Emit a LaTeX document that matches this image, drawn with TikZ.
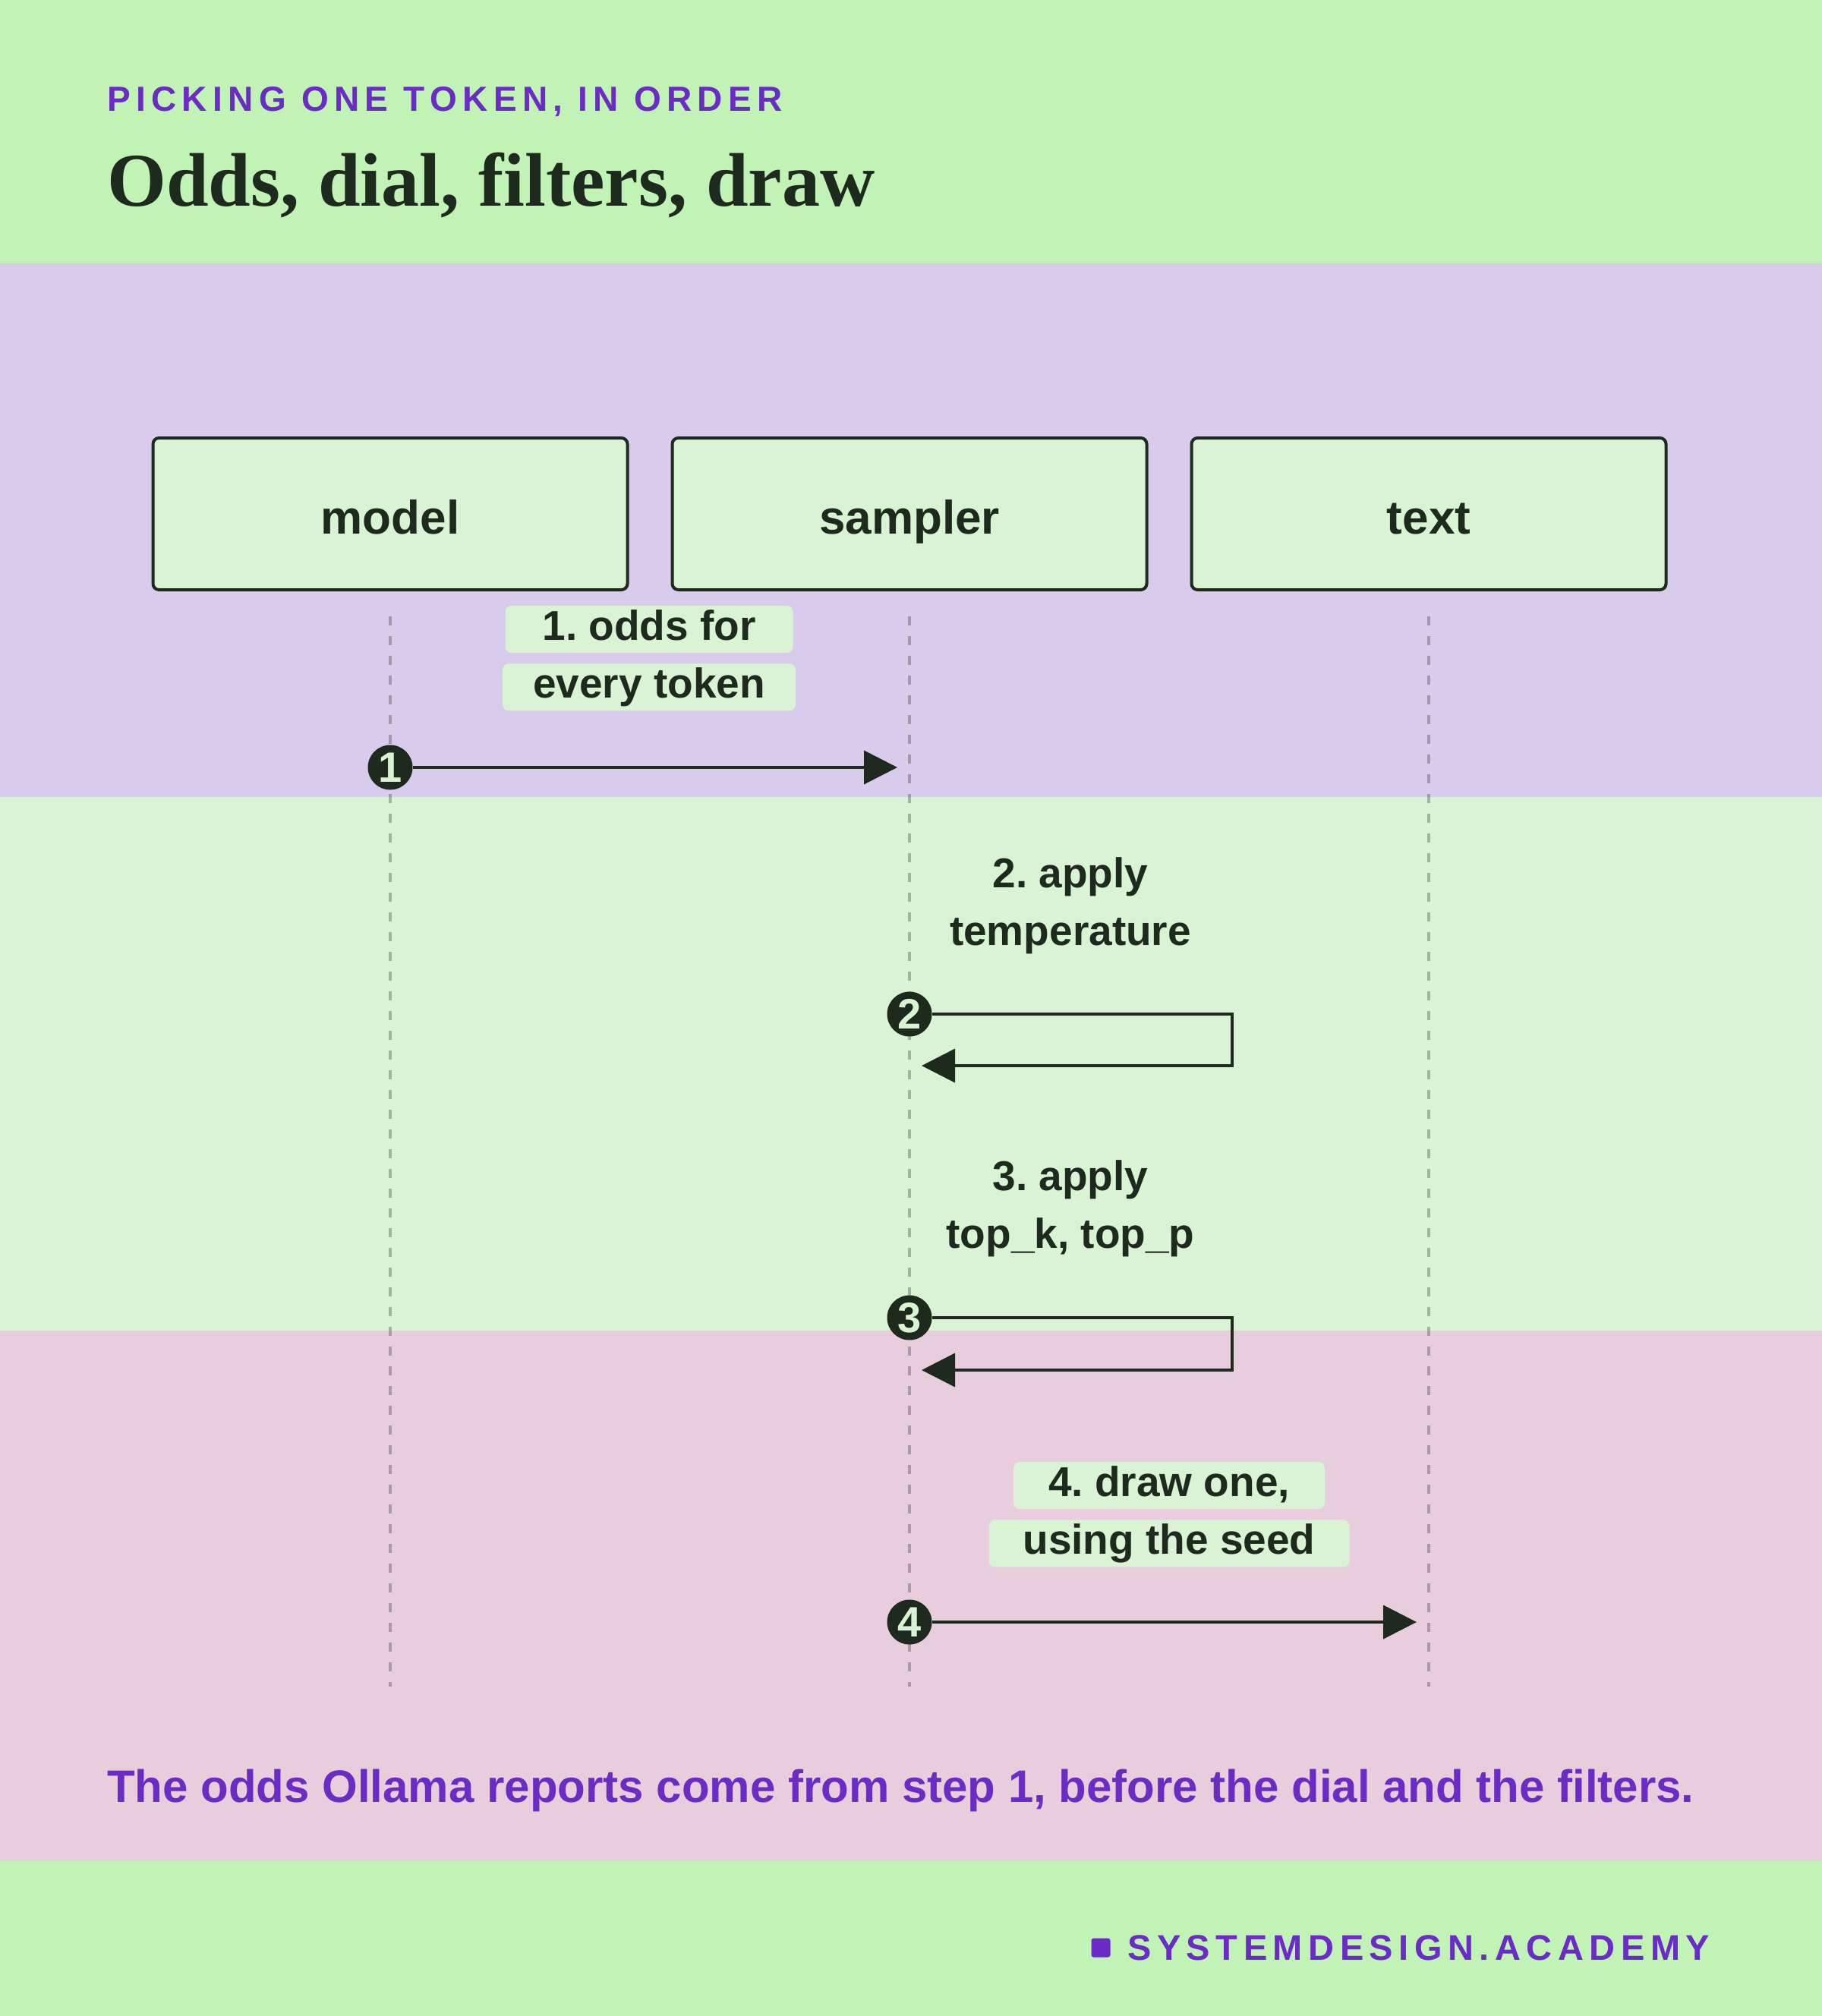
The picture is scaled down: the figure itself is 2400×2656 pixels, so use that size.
\documentclass[tikz,border=0pt]{standalone}
\usepackage{fontspec}
\setmainfont{Liberation Sans}
\newfontfamily\headserif{Liberation Serif}
\newfontfamily\spacedsans[LetterSpace=16]{Liberation Sans}
\usetikzlibrary{arrows.meta,positioning}

\definecolor{mint}{HTML}{C2F3B6}
\definecolor{lilac}{HTML}{D9CBEB}
\definecolor{palemint}{HTML}{DAF3D5}
\definecolor{blush}{HTML}{E8CDDD}
\definecolor{ink}{HTML}{1F2A1F}
\definecolor{grape}{HTML}{6A2CC4}

\newcommand{\pxsize}[1]{\fontsize{#1}{#1}\selectfont}
\frenchspacing

\tikzset{
  actor/.style={draw=ink, line width=4pt, fill=palemint, rounded corners=8pt,
    minimum width=625pt, minimum height=200pt, text height=60pt, text depth=8pt,
    text=ink, font=\pxsize{62}\bfseries},
  lifeline/.style={draw=ink, draw opacity=.3, line width=4pt, dash pattern=on 12pt off 14pt},
  msglabel/.style={fill=palemint, rounded corners=8pt, minimum width=379pt,
    inner xsep=40pt, inner ysep=0pt, text height=45pt, text depth=17pt,
    text=ink, font=\pxsize{55}\bfseries},
  stepdot/.style={circle, fill=ink, minimum size=59pt, inner sep=0pt,
    text=palemint, font=\pxsize{56}\bfseries},
  msg/.style={draw=ink, line width=4pt, -{Triangle[length=44pt,width=44pt]}},
  caption/.style={anchor=base west, inner sep=0pt},
}

\begin{document}
\begin{tikzpicture}[x=1pt,y=-1pt]
  \useasboundingbox (0,0) rectangle (2400,2656);
  % bands
  \fill[mint] (0,0) rectangle (2400,347);
  \fill[lilac] (0,347) rectangle (2400,1050);
  \fill[palemint] (0,1050) rectangle (2400,1753);
  \fill[blush] (0,1753) rectangle (2400,2452);
  \fill[mint] (0,2452) rectangle (2400,2656);

  \node[caption, text=grape, font=\spacedsans\pxsize{46}\bfseries] (kicker) at (141,146) {PICKING ONE TOKEN, IN ORDER};
  \node[caption, text=ink, font=\headserif\pxsize{100}\bfseries] (title) at (141,271) {Odds, dial, filters, draw};

  % participants
  \foreach \who/\x in {model/514, sampler/1198, text/1882}{
    \node[actor] (\who) at (\x,677) {\who};
    \coordinate (\who-end) at (\x,2222);
    \draw[lifeline] ([yshift=-33pt]\who.south) -- (\who-end);
  }

  % 1
  \node[stepdot] (s1) at (514,1011) {1};
  \coordinate (s1-tip) at (1182,1011);
  \draw[msg] (s1) -- (s1-tip);
  \node[msglabel] (odds) at (855,829) {1. odds for};
  \node[msglabel, below=14pt of odds] (oddsb) {every token};

  % 2
  \node[stepdot] (s2) at (1198,1336) {2};
  \draw[msg] (s2) -- ++(425,0) |- ++(-409,68);
  \node[msglabel] (temp) at (1410,1155) {2. apply};
  \node[msglabel, below=14pt of temp] (tempb) {temperature};

  % 3
  \node[stepdot] (s3) at (1198,1736) {3};
  \draw[msg] (s3) -- ++(425,0) |- ++(-409,69);
  \node[msglabel] (filt) at (1410,1554) {3. apply};
  \node[msglabel, below=14pt of filt] (filtb) {top\_k, top\_p};

  % 4
  \node[stepdot] (s4) at (1198,2137) {4};
  \coordinate (s4-tip) at (1866,2137);
  \draw[msg] (s4) -- (s4-tip);
  \node[msglabel, minimum width=410pt] (pick) at (1540,1957) {4. draw one,};
  \node[msglabel, minimum width=475pt, below=14pt of pick] (pickb) {using the seed};

  \node[caption, text=grape, font=\pxsize{60}\bfseries] (note) at (141,2374) {The odds Ollama reports come from step 1, before the dial and the filters.};
  \node[fill=grape, rounded corners=3pt, minimum size=25pt, inner sep=0pt] (dot) at (1450,2566) {};
  \node[caption, text=grape, font=\spacedsans\pxsize{47}\bfseries] (brand) at (1485,2582) {SYSTEMDESIGN.ACADEMY};
\end{tikzpicture}
\end{document}
